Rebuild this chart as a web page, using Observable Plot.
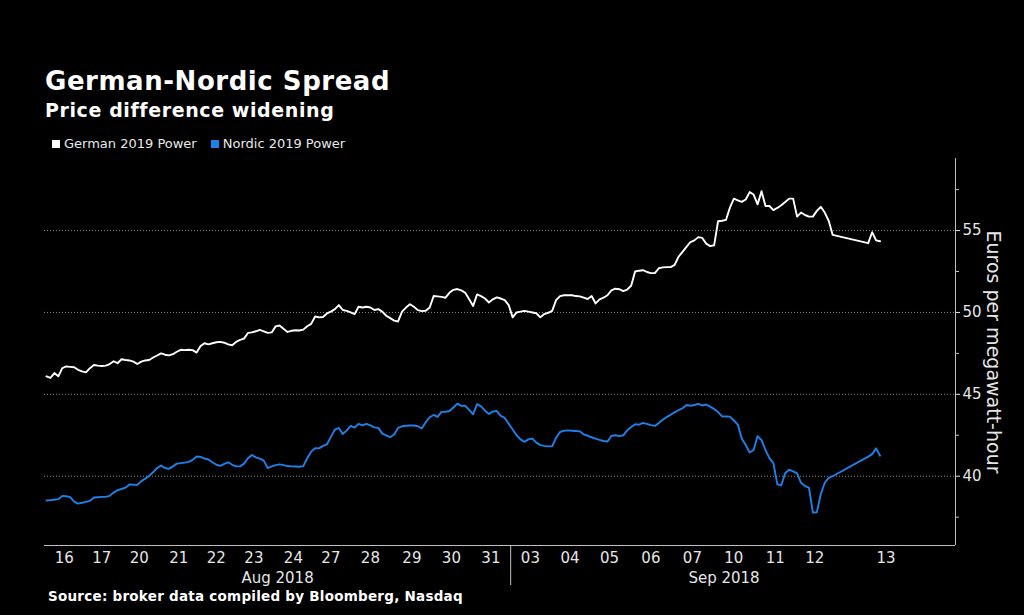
<!DOCTYPE html>
<html><head><meta charset="utf-8">
<script src="https://cdn.jsdelivr.net/npm/d3@7"></script>
<script src="https://cdn.jsdelivr.net/npm/@observablehq/plot@0.6"></script>
<style>
html,body{margin:0;padding:0;background:#000;}
#wrap{position:relative;width:1024px;height:615px;overflow:hidden;background:#000;font-family:"DejaVu Sans",sans-serif;color:#fff;}
.t{position:absolute;white-space:nowrap;line-height:1;}
.sw{display:inline-block;width:8px;height:8px;margin-right:4px;vertical-align:0px;}
#chart{position:absolute;left:0;top:150px;}
</style></head><body>
<div id="wrap">
  <div class="t" style="left:45px;top:68px;font-size:26px;font-weight:bold;letter-spacing:0.55px;">German-Nordic Spread</div>
  <div class="t" style="left:45px;top:101px;font-size:19px;font-weight:bold;letter-spacing:0.6px;">Price difference widening</div>
  <div class="t" id="legend" style="left:52px;top:137px;font-size:13px;color:#e8e8e8;"></div>
  <div id="chart"></div>
  <div class="t" style="left:48px;top:590px;font-size:13.5px;font-weight:bold;letter-spacing:0.25px;">Source: broker data compiled by Bloomberg, Nasdaq</div>
</div>
<script>
// Trading days shown on the x axis
const days = ["16","17","20","21","22","23","24","27","28","29","30","31","03","04","05","06","07","10","11","12","13"];
const dayMonth = ["Aug 2018","Aug 2018","Aug 2018","Aug 2018","Aug 2018","Aug 2018","Aug 2018","Aug 2018","Aug 2018","Aug 2018","Aug 2018","Aug 2018",
  "Sep 2018","Sep 2018","Sep 2018","Sep 2018","Sep 2018","Sep 2018","Sep 2018","Sep 2018","Sep 2018"];
const seriesNames = ["German 2019 Power", "Nordic 2019 Power"];
const yTicks = [40, 45, 50, 55];
const yMinorTicks = [37.5, 42.5, 47.5, 52.5, 57.5];

// Intraday prices (EUR/MWh), one array of observation slots per trading day; null = no trade
const german = [
  [46.1,46.0,46.3,46.1,46.6,46.7,46.68,46.65,46.5,46.4],
  [46.34,46.6,46.79,46.75,46.73,46.75,46.85,47.02,46.9],
  [47.14,47.1,47.07,47.0,46.85,47.0,47.07,47.1,47.25,47.37],
  [47.5,47.42,47.38,47.45,47.6,47.72,47.7,47.72,47.7,47.55],
  [47.95,48.12,48.05,48.12,48.18,48.2,48.15,48.05,48.0],
  [48.2,48.32,48.4,48.75,48.78,48.85,48.93,48.85,48.75,48.78],
  [49.15,49.2,49.0,48.81,48.88,48.91,48.9,48.95,49.16,49.3],
  [49.75,49.7,49.72,49.94,50.05,50.2,50.45,50.15,50.1],
  [50.0,49.9,50.35,50.3,50.35,50.3,50.15,50.2,50.05,49.8,49.65],
  [49.5,49.45,50.05,50.3,50.5,50.35,50.14,50.08,50.1,50.3],
  [51.0,50.98,50.95,50.9,51.2,51.38,51.43,51.35,51.2,50.8],
  [50.4,51.1,51.0,50.85,50.61,50.8,50.92,50.85,50.75,50.45],
  [49.7,50.0,50.05,50.1,50.05,50.0,49.95,49.7,49.9,49.98],
  [50.1,50.75,51.0,51.05,51.05,51.05,51.0,50.98,50.9,50.82],
  [51.0,50.55,50.8,50.9,51.05,51.35,51.45,51.42,51.3,51.4],
  [51.63,52.5,52.55,52.58,52.47,52.4,52.4,52.7,52.75,52.77,52.77],
  [52.9,53.4,53.7,54.0,54.3,54.4,54.6,54.55,54.2,54.05],
  [54.1,55.57,55.6,55.65,56.4,56.95,56.85,56.75,56.9,57.35,57.2],
  [56.6,57.4,56.5,56.5,56.25,56.38,56.55,56.75,56.95,56.95],
  [55.85,56.1,55.95,55.85,55.85,56.2,56.45,56.1,55.6,54.74],
  [null,null,null,null,null,null,null,null,54.23,54.9,54.4,54.35,null,null,null,null,null,null,null,null,null,null,null,null,null,null]
];
const nordic = [
  [38.52,38.54,38.56,38.6,38.8,38.78,38.72,38.45,38.33,38.38],
  [38.43,38.5,38.7,38.72,38.74,38.74,38.8,39.0,39.15],
  [39.22,39.3,39.5,39.48,39.47,39.7,39.85,40.02,40.25,40.5],
  [40.65,40.5,40.45,40.6,40.77,40.8,40.83,40.88,41.0,41.2],
  [41.18,41.08,41.02,40.85,40.7,40.63,40.75,40.85,40.7],
  [40.6,40.6,40.77,41.1,41.3,41.15,41.07,40.95,40.5,40.6],
  [40.68,40.72,40.68,40.62,40.6,40.59,40.58,40.62,41.1,41.5],
  [41.71,41.7,41.85,41.95,42.4,42.85,42.95,42.58,42.8],
  [43.07,42.97,43.2,43.1,43.2,43.1,42.98,42.95,42.6,42.5,42.38],
  [42.55,42.95,43.05,43.08,43.1,43.1,43.05,42.92,43.3,43.6],
  [43.74,43.62,43.93,43.94,43.98,44.2,44.43,44.3,44.3,44.05],
  [43.78,44.4,44.27,44.0,43.8,43.96,43.98,43.68,43.56,43.2],
  [42.85,42.5,42.25,42.1,42.25,42.3,42.05,41.9,41.85,41.82],
  [41.82,42.35,42.7,42.78,42.8,42.78,42.76,42.74,42.55,42.47],
  [42.38,42.3,42.22,42.15,42.12,42.46,42.5,42.45,42.5,42.8],
  [43.0,43.17,43.15,43.25,43.2,43.12,43.07,43.25,43.45,43.62,43.75],
  [43.9,44.03,44.15,44.35,44.3,44.35,44.42,44.32,44.38,44.25],
  [44.1,43.92,43.66,43.65,43.64,43.4,43.15,42.3,41.9,41.45,41.6],
  [42.45,42.2,41.6,41.1,40.8,39.5,39.45,40.2,40.4,40.3],
  [40.17,39.6,39.4,39.3,37.78,37.8,38.9,39.6,39.9,40.0],
  [null,null,null,null,null,null,null,null,41.2,41.35,41.7,41.25,null,null,null,null,null,null,null,null,null,null,null,null,null,null]
];

const WHITE = "#ffffff", BLUE = "#1f80e8", AXIS = "#bfbfbf", TEXT = "#e6e6e6";

// Build rows: x = cumulative observation slot
const rows = [];
const dayInfo = [];
let k = 0;
days.forEach((d, i) => {
  const n = german[i].length;
  dayInfo.push({label: d, month: dayMonth[i], start: k, end: k + n, center: k + n / 2});
  for (let j = 0; j < n; j++) rows.push({x: k + j + 0.5, g: german[i][j], n: nordic[i][j]});
  k += n;
});
const monthInfo = [];
for (const d of dayInfo) {
  const m = monthInfo.find(o => o.label === d.month);
  if (m) m.end = d.end; else monthInfo.push({label: d.month, start: d.start, end: d.end});
}
monthInfo.forEach(m => m.center = (m.start + m.end) / 2);
const separators = monthInfo.slice(1).map(m => m.start);

const xMax = 230.6;
const yMin = 35.77, yMax = 59.4;

// Legend
const legend = document.getElementById("legend");
legend.innerHTML = seriesNames.map((s, i) =>
  `<span style="margin-right:${i === 0 ? 14 : 0}px"><span class="sw" style="background:${i === 0 ? WHITE : BLUE}"></span>${s}</span>`).join("");

const chart = Plot.plot({
  width: 1024, height: 438,
  marginTop: 8, marginBottom: 43, marginLeft: 44, marginRight: 69,
  style: {background: "transparent", color: TEXT, fontFamily: "DejaVu Sans, sans-serif", fontSize: "15px", overflow: "visible"},
  x: {domain: [0, xMax], axis: null},
  y: {domain: [yMin, yMax], axis: null, label: null},
  marks: [
    Plot.gridY(yTicks, {stroke: "#8a8a8a", strokeOpacity: 1, strokeDasharray: "1,2"}),
    Plot.ruleY([yMin], {stroke: AXIS}),
    Plot.ruleX([xMax], {stroke: AXIS}),
    Plot.ruleX(separators, {y1: yMin, y2: yMin - 2.45, stroke: AXIS}),
    Plot.axisY(yTicks, {anchor: "right", tickSize: 4, tickPadding: 3, fontSize: 15, color: TEXT, label: null}),
    Plot.axisY(yMinorTicks, {anchor: "right", tickSize: 3, tickFormat: () => "", color: AXIS, label: null}),
    Plot.text(["Euros per megawatt-hour"], {frameAnchor: "right", rotate: 90, dx: 38, fontSize: 19, fill: TEXT, textAnchor: "middle"}),
    Plot.text(dayInfo, {x: "center", text: "label", frameAnchor: "bottom", lineAnchor: "bottom", dy: 17, fontSize: 15, fill: TEXT}),
    Plot.text(monthInfo, {x: "center", text: "label", frameAnchor: "bottom", lineAnchor: "bottom", dy: 37, fontSize: 15, fill: TEXT}),
    Plot.line(rows.filter(d => d.n != null), {x: "x", y: "n", stroke: BLUE, strokeWidth: 1.9}),
    Plot.line(rows.filter(d => d.g != null), {x: "x", y: "g", stroke: WHITE, strokeWidth: 1.9})
  ]
});
document.getElementById("chart").appendChild(chart);
</script>
</body></html>
